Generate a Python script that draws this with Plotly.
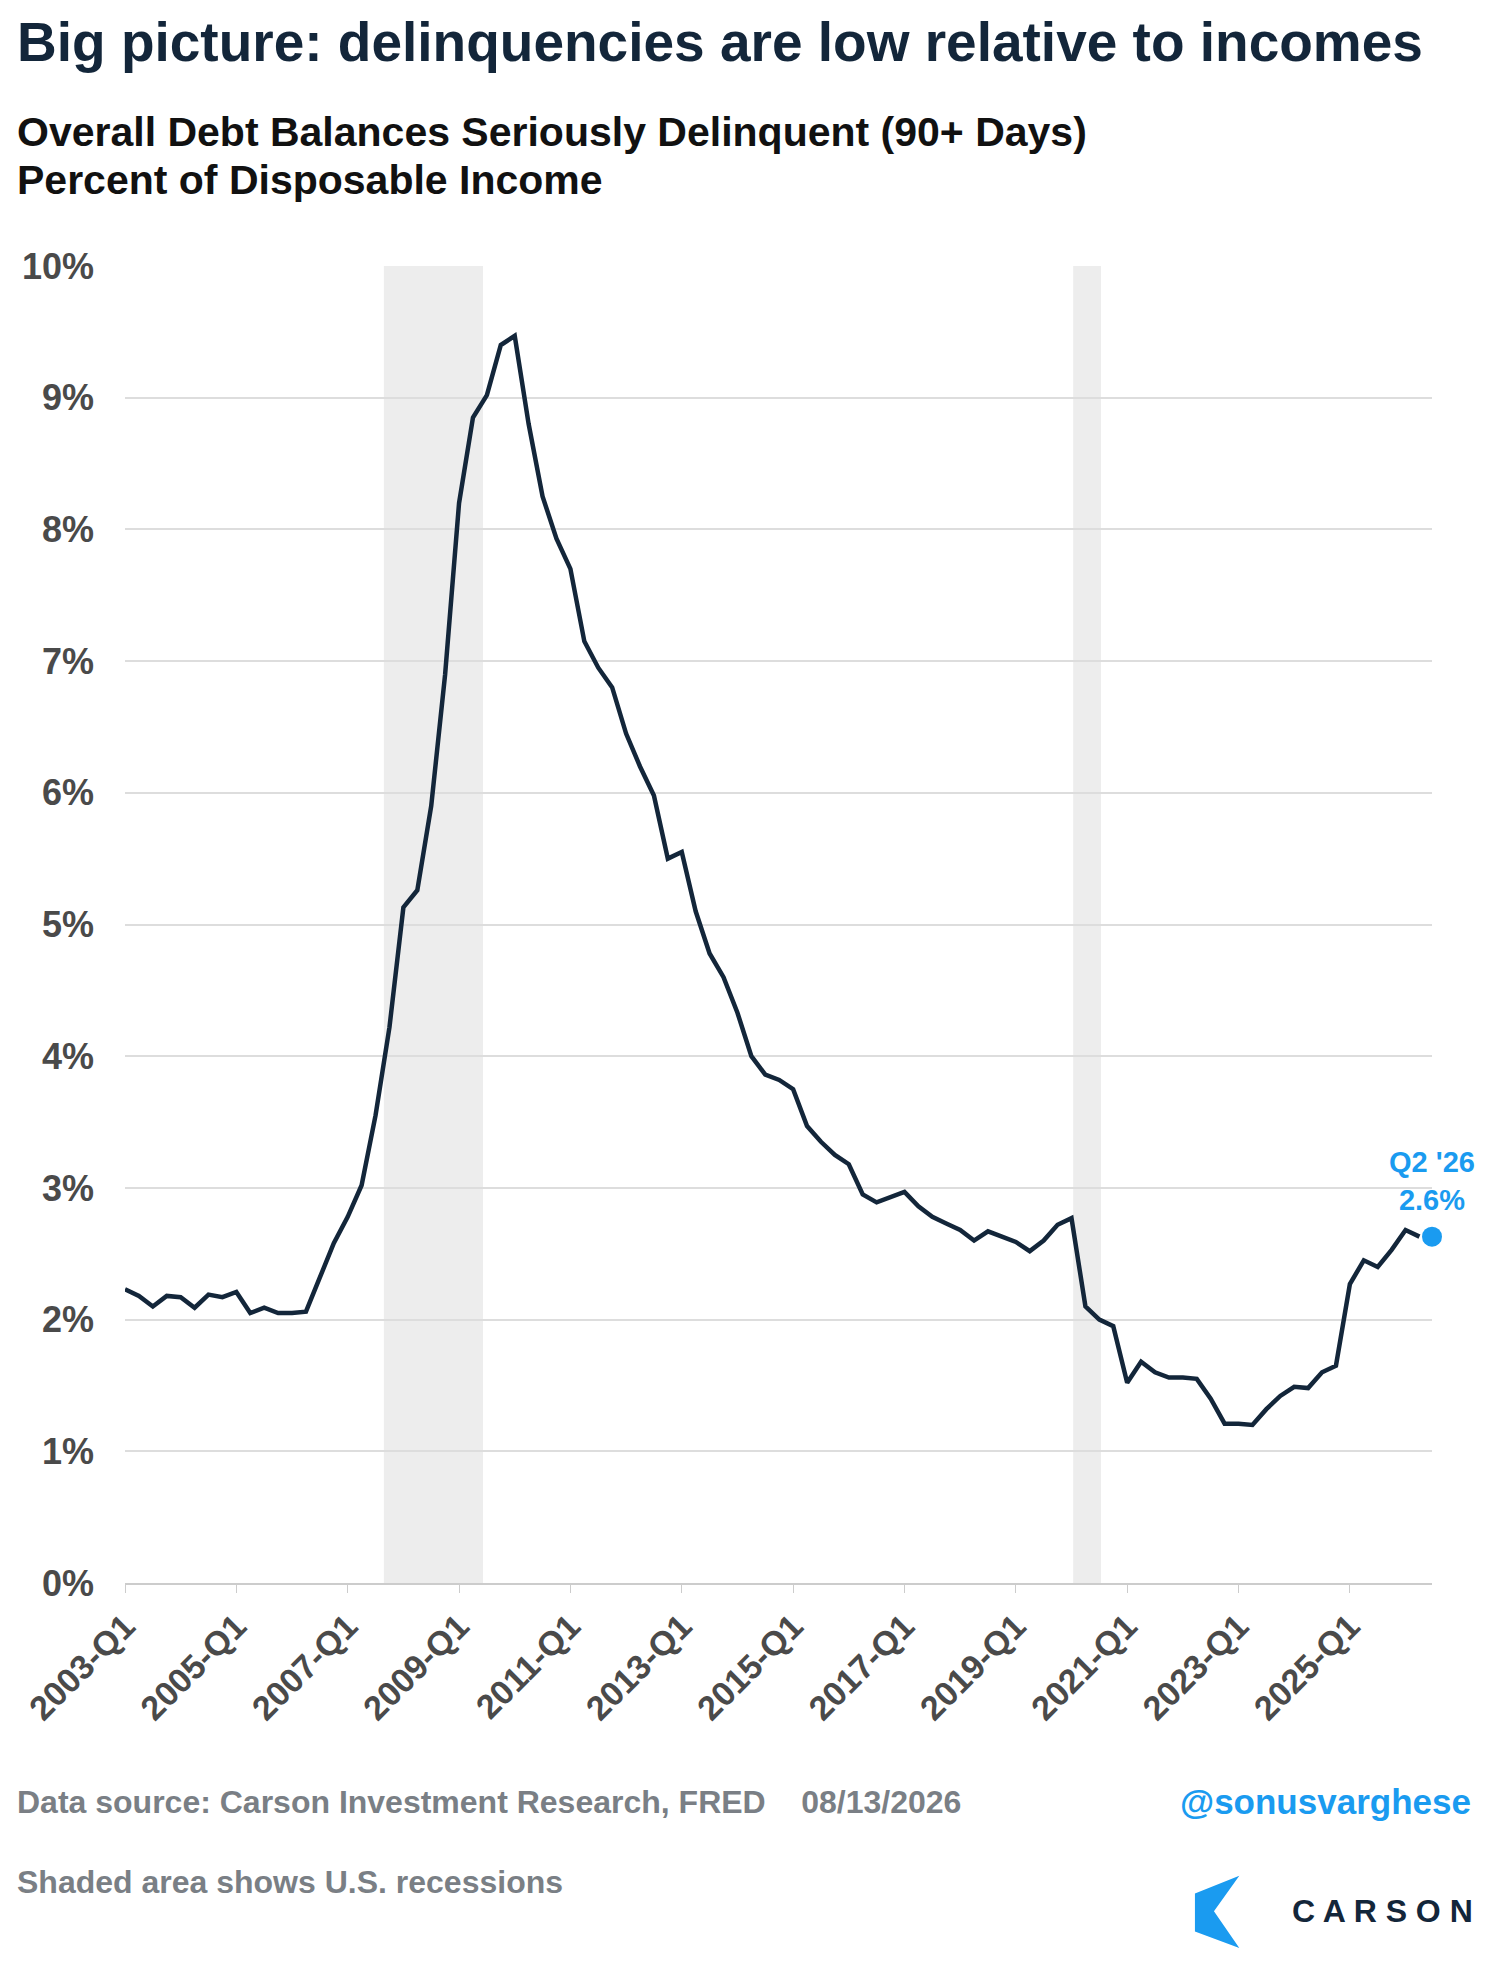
import plotly.graph_objects as go

years = list(range(2003, 2027))
quarters = [f"{y}-Q{q}" for y in years for q in (1, 2, 3, 4)][:94]
values = [
    2.23, 2.18, 2.10, 2.18,
    2.17, 2.09, 2.19, 2.17,
    2.21, 2.05, 2.09, 2.05,
    2.05, 2.06, 2.32, 2.58,
    2.78, 3.02, 3.55, 4.22,
    5.13, 5.26, 5.90, 6.90,
    8.20, 8.85, 9.02, 9.40,
    9.47, 8.80, 8.25, 7.93,
    7.70, 7.15, 6.95, 6.80,
    6.45, 6.20, 5.98, 5.50,
    5.55, 5.10, 4.78, 4.60,
    4.33, 4.00, 3.86, 3.82,
    3.75, 3.47, 3.35, 3.25,
    3.18, 2.95, 2.89, 2.93,
    2.97, 2.86, 2.78, 2.73,
    2.68, 2.60, 2.67, 2.63,
    2.59, 2.52, 2.60, 2.72,
    2.77, 2.10, 2.00, 1.95,
    1.52, 1.68, 1.60, 1.56,
    1.56, 1.55, 1.40, 1.21,
    1.21, 1.20, 1.32, 1.42,
    1.49, 1.48, 1.60, 1.65,
    2.27, 2.45, 2.40, 2.53,
    2.68, 2.63,
]
# recession spans as decimal years
recessions = [(2007.65, 2009.43), (2020.03, 2020.53)]
tick_labels = [f"{y}-Q1" for y in range(2003, 2027, 2)]
y_ticks = list(range(0, 11))

S = 1503 / 1186.0  # reference display -> full pixel scale
OFF = 8            # page body margin
FW, FH = 1503 - 2 * OFF, 1980 - 2 * OFF
L, R, T, B = 99 * S - OFF, FW - (1130 * S - OFF), 210 * S - OFF, FH - (1249 * S - OFF)

idx = list(range(len(quarters)))
fig = go.Figure()
for a, b in recessions:
    fig.add_shape(type="rect", xref="x", yref="paper",
                  x0=(a - 2003) * 4, x1=(b - 2003) * 4, y0=0, y1=1,
                  fillcolor="#ededed", line_width=0, layer="below")
fig.add_trace(go.Scatter(x=idx, y=values, mode="lines",
                         line=dict(color="#13263a", width=4.5), hoverinfo="skip"))
fig.add_trace(go.Scatter(x=[idx[-1] + 0.9], y=[values[-1]], mode="markers", cliponaxis=False,
                         marker=dict(color="#1a9bf0", size=20)))

font = "Liberation Sans"
fig.add_annotation(x=idx[-1] + 0.9, y=values[-1], yshift=56, showarrow=False,
                   text="<b>Q2 '26<br>2.6%</b>", font=dict(color="#1a9bf0", size=29, family=font),
                   align="center")

fig.update_layout(
    width=FW, height=FH, paper_bgcolor="white", plot_bgcolor="white",
    showlegend=False, margin=dict(l=L, r=R, t=T, b=B),
    font=dict(family=font, color="#555"),
)
fig.update_xaxes(range=[0, idx[-1] + 0.9], tickvals=[quarters.index(t) for t in tick_labels],
                 ticktext=[f"<b>{t}</b>" for t in tick_labels], tickangle=-45, showgrid=False,
                 zeroline=False, showline=True, linecolor="#cccccc", linewidth=1.5, ticks="outside",
                 tickcolor="#cccccc", ticklen=8,
                 tickfont=dict(size=34, family=font, color="#4a4a4a"))
fig.update_yaxes(range=[0, 10], tickvals=y_ticks, ticktext=[f"<b>{v}%</b>" for v in y_ticks],
                 showgrid=True, gridcolor="#dddddd", gridwidth=1.5, zeroline=False,
                 tickfont=dict(size=36, family=font, color="#4a4a4a"), ticklabelstandoff=30)

W, H = FW - L - R, FH - T - B

def px(xd, yd):
    return (xd * S - OFF - L) / W, 1 - (yd * S - OFF - T) / H

def txt(xd, yd, s, size, color, xanchor="left"):
    x, y = px(xd, yd)
    fig.add_annotation(xref="paper", yref="paper", x=x, y=y, text=s, showarrow=False,
                       xanchor=xanchor, yanchor="middle", font=dict(size=size, color=color, family=font))

txt(12, 33, "<b>Big picture: delinquencies are low relative to incomes</b>", 55, "#13263a")
txt(12, 104, "<b>Overall Debt Balances Seriously Delinquent (90+ Days)</b>", 41, "#111")
txt(12, 142, "<b>Percent of Disposable Income</b>", 41, "#111")
txt(12, 1422, "<b>Data source: Carson Investment Research, FRED    08/13/2026</b>", 32, "#7a7f85")
txt(12, 1485, "<b>Shaded area shows U.S. recessions</b>", 32, "#7a7f85")
txt(1162, 1421, "<b>@sonusvarghese</b>", 35, "#1a9bf0", "right")
txt(1164, 1508, "<b>C A R S O N</b>", 32, "#13263a", "right")
pts = [(943, 1494), (978, 1480), (958, 1508), (978, 1537), (943, 1524)]
path = "M " + " L ".join("{} {}".format(*px(a, b)) for a, b in pts) + " Z"
fig.add_shape(type="path", xref="paper", yref="paper", path=path, fillcolor="#1a9bf0", line_width=0)
fig.write_html("out.html")
